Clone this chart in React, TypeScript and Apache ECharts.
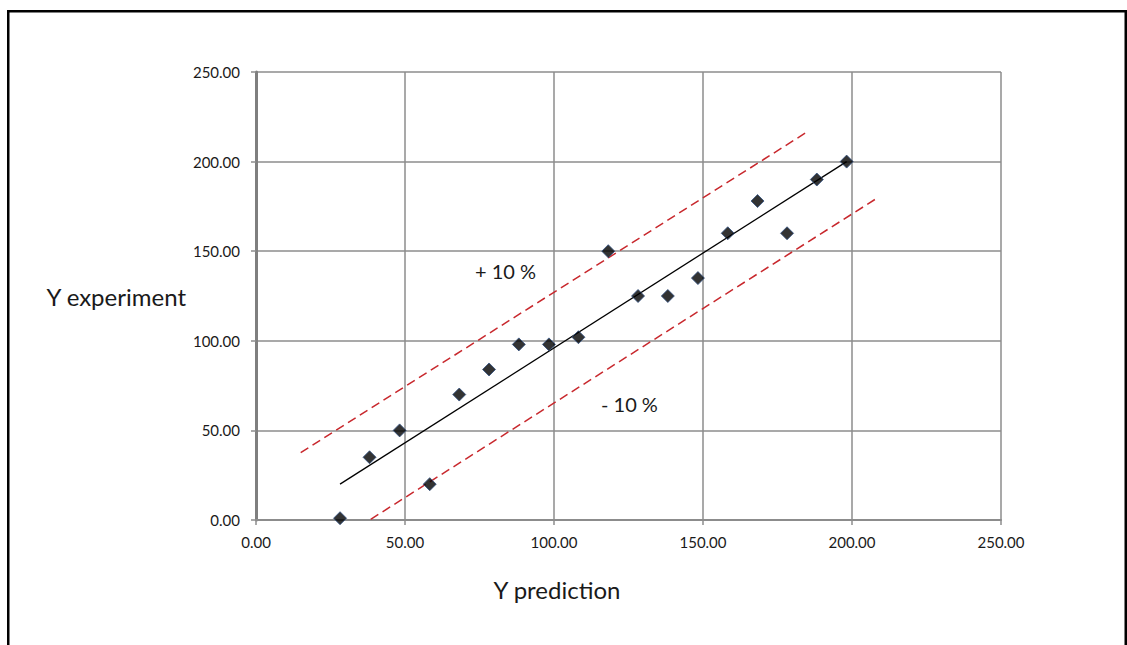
import React, { useEffect, useRef } from "react";
import * as echarts from "echarts";

const predicted = [28.2, 38.1, 48.2, 58.3, 68.2, 78.2, 88.2, 98.3, 108.2, 118.2, 128.2, 138.2, 148.3, 158.3, 168.3, 178.2, 188.2, 198.2];
const experiment = [1, 35, 50, 20, 70, 84, 98, 98, 102, 150, 125, 125, 135, 160, 178, 160, 190, 200];
const fitLine = [[28.2, 20], [198.2, 200]];
const upperLine = [[15, 37.6], [184.6, 216.2]];
const lowerLine = [[38.5, 0.4], [208.1, 179.3]];
const upperLabel = "+ 10 %";
const lowerLabel = "- 10 %";
const xName = "Y prediction";
const yName = "Y experiment";

const FONT = "Lato, 'Open Sans', sans-serif";

export default function App() {
  const ref = useRef<HTMLDivElement>(null);
  useEffect(() => {
    document.body.style.margin = "0";
    const chart = echarts.init(ref.current!, null, { renderer: "svg" });
    const points = predicted.map((x, i) => [x, experiment[i]]);
    const axisLabelStyle = {
      color: "#1a1a1a",
      fontSize: 15,
      fontFamily: FONT,
      formatter: (v: number) => v.toFixed(2),
    };
    chart.setOption({
      animation: false,
      backgroundColor: "#ffffff",
      grid: { left: 256, right: 126, top: 72, bottom: 125, containLabel: false },
      xAxis: {
        type: "value",
        min: 0,
        max: 250,
        interval: 50,
        name: xName,
        nameLocation: "middle",
        nameGap: 57,
        nameTextStyle: {
          fontSize: 24,
          fontFamily: FONT,
          color: "#1a1a1a",
          align: "center",
          verticalAlign: "top",
          padding: [0, 143, 0, 0],
        },
        axisLine: { show: true, onZero: false, lineStyle: { color: "#8c8c8c", width: 2 } },
        axisTick: { show: true, length: 5, lineStyle: { color: "#8c8c8c", width: 1.5 } },
        axisLabel: { ...axisLabelStyle, margin: 14 },
        splitLine: { show: true, lineStyle: { color: "#8c8c8c", width: 1.5 } },
      },
      yAxis: {
        type: "value",
        min: 0,
        max: 250,
        interval: 50,
        name: yName,
        nameLocation: "middle",
        nameRotate: 0,
        nameGap: 70,
        nameTextStyle: {
          fontSize: 24,
          fontFamily: FONT,
          color: "#1a1a1a",
          align: "right",
          verticalAlign: "middle",
        },
        axisLine: { show: true, onZero: false, lineStyle: { color: "#7f7f7f", width: 3 } },
        axisTick: { show: true, length: 5, lineStyle: { color: "#8c8c8c", width: 1.5 } },
        axisLabel: { ...axisLabelStyle, margin: 16 },
        splitLine: { show: true, lineStyle: { color: "#8c8c8c", width: 1.5 } },
      },
      series: [
        {
          type: "line",
          data: upperLine,
          showSymbol: false,
          symbol: "none",
          lineStyle: { color: "#c8282d", width: 1.5, type: [9, 5] },
          z: 3,
        },
        {
          type: "line",
          data: lowerLine,
          showSymbol: false,
          symbol: "none",
          lineStyle: { color: "#c8282d", width: 1.5, type: [9, 5] },
          z: 3,
        },
        {
          type: "line",
          data: fitLine,
          showSymbol: false,
          symbol: "none",
          lineStyle: { color: "#000000", width: 1.3 },
          z: 4,
        },
        {
          type: "scatter",
          data: points,
          symbol: "diamond",
          symbolSize: 13,
          itemStyle: { color: "#000000", borderColor: "#2f4f80", borderWidth: 1 },
          z: 5,
        },
      ],
      graphic: [
        {
          type: "text",
          left: 475,
          top: 261,
          style: { text: upperLabel, font: `20px ${FONT}`, fill: "#1a1a1a" },
          z: 10,
        },
        {
          type: "text",
          left: 601,
          top: 394,
          style: { text: lowerLabel, font: `20px ${FONT}`, fill: "#1a1a1a" },
          z: 10,
        },
        {
          type: "rect",
          shape: { x: 8.25, y: 11.25, width: 1117.5, height: 700 },
          style: { fill: "none", stroke: "#000000", lineWidth: 2.5 },
          silent: true,
          z: 20,
        },
      ],
    });
    return () => chart.dispose();
  }, []);
  return <div ref={ref} style={{ width: 1127, height: 645 }} />;
}
